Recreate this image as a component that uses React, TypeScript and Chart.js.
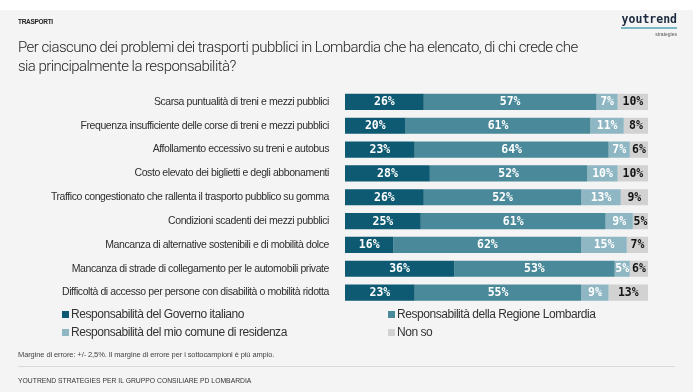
import React, { useEffect, useRef } from "react";
import { Chart, registerables } from "chart.js";
Chart.register(...registerables);

const categories = [
  "Scarsa puntualità di treni e mezzi pubblici",
  "Frequenza insufficiente delle corse di treni e mezzi pubblici",
  "Affollamento eccessivo su treni e autobus",
  "Costo elevato dei biglietti e degli abbonamenti",
  "Traffico congestionato che rallenta il trasporto pubblico su gomma",
  "Condizioni scadenti dei mezzi pubblici",
  "Mancanza di alternative sostenibili e di mobilità dolce",
  "Mancanza di strade di collegamento per le automobili private",
  "Difficoltà di accesso per persone con disabilità o mobilità ridotta",
];
const governo = [26, 20, 23, 28, 26, 25, 16, 36, 23];
const regione = [57, 61, 64, 52, 52, 61, 62, 53, 55];
const comune = [7, 11, 7, 10, 13, 9, 15, 5, 9];
const nonSo = [10, 8, 6, 10, 9, 5, 7, 6, 13];
const seriesNames = [
  "Responsabilità del Governo italiano",
  "Responsabilità della Regione Lombardia",
  "Responsabilità del mio comune di residenza",
  "Non so",
];
const seriesValues = [governo, regione, comune, nonSo];
const colors = ["#0e5a72", "#4a899a", "#8fb7c3", "#d2d2d2"];
const labelColors = ["#ffffff", "#ffffff", "#ffffff", "#151515"];

const titleLines = [
  "Per ciascuno dei problemi dei trasporti pubblici in Lombardia che ha elencato, di chi crede che",
  "sia principalmente la responsabilità?",
];

export default function App() {
  const ref = useRef<HTMLCanvasElement>(null);
  useEffect(() => {
    document.body.style.margin = "0";
    const canvas = ref.current!;
    const valuePlugin = {
      id: "valueLabels",
      beforeDraw(chart: any) {
        chart.ctx.letterSpacing = "-0.42px";
      },
      afterDatasetsDraw(chart: any) {
        const ctx = chart.ctx;
        ctx.save();
        ctx.letterSpacing = "0px";
        ctx.font = "bold 11.5px 'DejaVu Sans Mono'";
        ctx.textAlign = "center";
        ctx.textBaseline = "middle";
        chart.data.datasets.forEach((ds: any, di: number) => {
          const meta = chart.getDatasetMeta(di);
          meta.data.forEach((el: any, i: number) => {
            const p = el.getProps(["x", "y", "base"], true);
            ctx.fillStyle = labelColors[di];
            ctx.fillText(ds.data[i] + "%", (p.x + p.base) / 2, p.y + 0.5);
          });
        });
        ctx.restore();
      },
      afterDraw(chart: any) {
        chart.ctx.letterSpacing = "0px";
      },
    };
    const chart = new Chart(canvas, {
      type: "bar",
      data: {
        labels: categories,
        datasets: seriesValues.map((vals, i) => ({
          label: seriesNames[i],
          data: vals,
          backgroundColor: colors[i],
          borderWidth: 0,
          barPercentage: 0.68,
          categoryPercentage: 1,
        })),
      },
      options: {
        indexAxis: "y",
        responsive: false,
        animation: false,
        layout: { padding: { top: 90, bottom: 87.5, left: 0, right: 45 } },
        plugins: { legend: { display: false }, tooltip: { enabled: false } },
        scales: {
          x: { stacked: true, min: 0, max: 100, display: false },
          y: {
            stacked: true,
            grid: { display: false },
            border: { display: false },
            ticks: {
              padding: 8,
              color: "#2e2e2e",
              font: { family: "'Liberation Sans', Arial, sans-serif", size: 10.5 },
            },
            afterFit: (s: any) => {
              s.width = 345;
            },
          },
        },
      },
      plugins: [valuePlugin],
    });
    return () => chart.destroy();
  }, []);

  const txt = (extra: React.CSSProperties): React.CSSProperties => ({
    position: "absolute",
    whiteSpace: "nowrap",
    fontFamily: "'Liberation Sans', Arial, sans-serif",
    ...extra,
  });

  return (
    <div
      style={{
        position: "relative",
        width: 693,
        height: 392,
        background: "#f4f4f4",
        overflow: "hidden",
      }}
    >
      <div style={{ position: "absolute", left: 0, top: 0, width: 693, height: 10, background: "#ffffff" }} />
      <canvas ref={ref} width={693} height={392} style={{ position: "absolute", left: 0, top: 0 }} />
      <div style={txt({ left: 18, top: 18, fontSize: 6.5, lineHeight: "8px", fontWeight: "bold", color: "#222", letterSpacing: -0.3 })}>
        TRASPORTI
      </div>
      <div style={txt({ right: 16, top: 13, fontSize: 11.5, lineHeight: "13px", fontWeight: "bold", color: "#1d2b40", fontFamily: "'DejaVu Sans Mono', monospace" })}>
        youtrend
      </div>
      <div style={{ position: "absolute", left: 621, top: 27, width: 56, height: 1.5, background: "#7ab6c4" }} />
      <div style={txt({ right: 16, top: 31, fontSize: 5, lineHeight: "6px", color: "#555" })}>strategies</div>
      {titleLines.map((t, i) => (
        <div
          key={i}
          style={txt({
            left: 18,
            top: 38 + i * 19,
            fontSize: 15,
            lineHeight: "18px",
            color: "#262626",
            fontFamily: "Roboto, 'Liberation Sans', sans-serif",
            fontWeight: 300,
            letterSpacing: -0.55,
          })}
        >
          {t}
        </div>
      ))}
      {seriesNames.map((n, i) => (
        <div
          key={n}
          style={txt({
            left: i % 2 === 0 ? 62 : 388,
            top: 307 + Math.floor(i / 2) * 18,
            fontSize: 12,
            lineHeight: "14px",
            color: "#333",
            letterSpacing: -0.45,
            display: "flex",
            alignItems: "center",
          })}
        >
          <span style={{ display: "inline-block", width: 7, height: 7, background: colors[i], marginRight: 2 }} />
          {n}
        </div>
      ))}
      <div style={txt({ left: 18, top: 350, fontSize: 7.5, lineHeight: "9px", color: "#444", letterSpacing: -0.1 })}>
        Margine di errore: +/- 2,5%. Il margine di errore per i sottocampioni è più ampio.
      </div>
      <div style={{ position: "absolute", left: 18, top: 366, width: 657, height: 1, background: "#d8d8d8" }} />
      <div style={txt({ left: 18, top: 377, fontSize: 6.8, lineHeight: "8px", color: "#333" })}>
        YOUTREND STRATEGIES PER IL GRUPPO CONSILIARE PD LOMBARDIA
      </div>
    </div>
  );
}
